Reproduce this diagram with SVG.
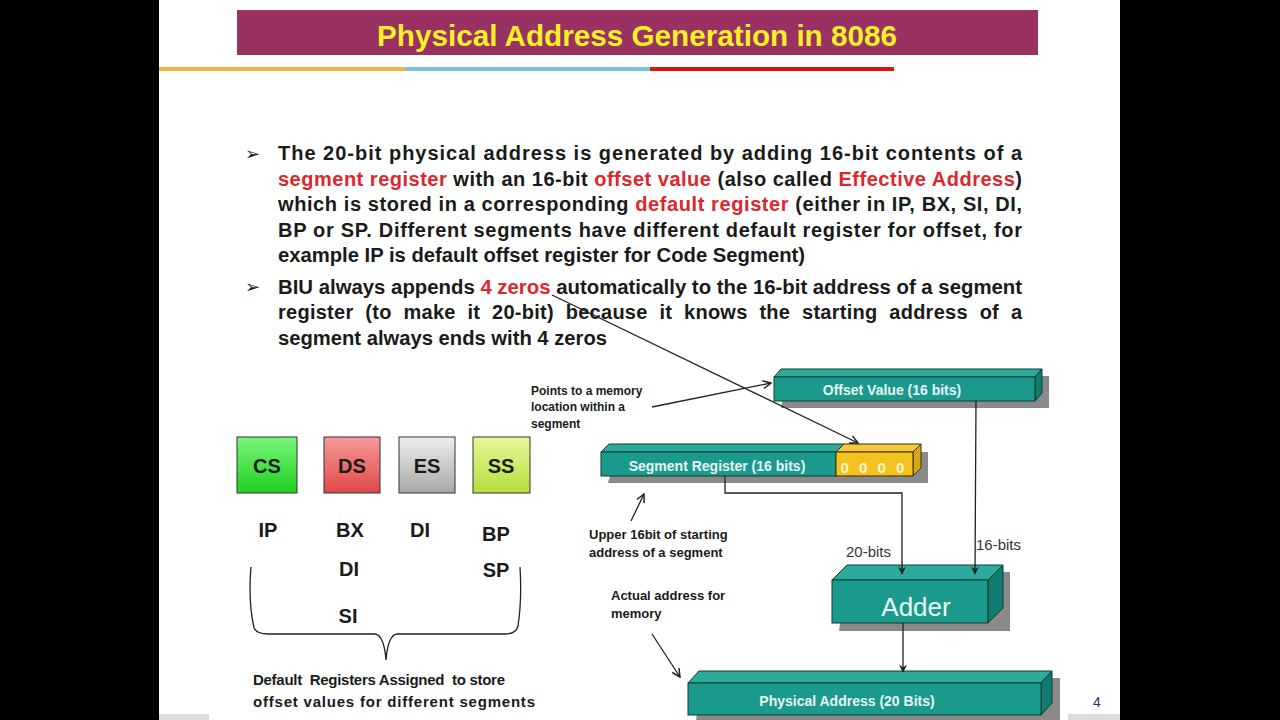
<svg xmlns="http://www.w3.org/2000/svg" width="1280" height="720" viewBox="0 0 1280 720">
<defs>
<style>
.bt{font-family:"Liberation Sans Narrow","Liberation Sans",Arial,sans-serif;font-weight:bold;font-size:20px;fill:#1a1a1a}
.r{fill:#e0262a}
.note{font-family:"Liberation Sans",Arial,sans-serif;font-weight:bold;font-size:13px;fill:#1a1a1a}
.box{font-family:"Liberation Sans",Arial,sans-serif;font-weight:bold;font-size:14px;fill:#e8f6f4;text-anchor:middle}
.reg{font-family:"Liberation Sans",Arial,sans-serif;font-weight:bold;font-size:20px;fill:#1a1a1a;text-anchor:middle}
.front{fill:#1b9a8c;stroke:#0b3c36;stroke-width:1}
.top{fill:#2cab9d;stroke:#0b3c36;stroke-width:1}
.side{fill:#117b70;stroke:#0b3c36;stroke-width:1}
.shadow{fill:#8a8a8a}
.ln{stroke:#222;stroke-width:1.3;fill:none}
.bits{font-family:"Liberation Sans",Arial,sans-serif;font-size:15px;fill:#333}
.bul{font-family:"DejaVu Sans",sans-serif;font-size:18px;fill:#1a1a1a}
</style>
<linearGradient id="gCS" x1="0" y1="0" x2="0" y2="1"><stop offset="0" stop-color="#7af57a"/><stop offset="1" stop-color="#20d020"/></linearGradient>
<linearGradient id="gDS" x1="0" y1="0" x2="0" y2="1"><stop offset="0" stop-color="#f59a9a"/><stop offset="1" stop-color="#e04848"/></linearGradient>
<linearGradient id="gES" x1="0" y1="0" x2="0" y2="1"><stop offset="0" stop-color="#eeeeee"/><stop offset="1" stop-color="#a8a8a8"/></linearGradient>
<linearGradient id="gSS" x1="0" y1="0" x2="0" y2="1"><stop offset="0" stop-color="#e6f79a"/><stop offset="1" stop-color="#b4de3c"/></linearGradient>
<marker id="ah" viewBox="0 0 10 10" refX="9" refY="5" markerWidth="8" markerHeight="8" orient="auto" markerUnits="userSpaceOnUse"><path d="M0,0 L10,5 L0,10 L3,5 Z" fill="#222"/></marker>
<marker id="av" viewBox="0 0 10 10" refX="9" refY="5" markerWidth="10" markerHeight="10" orient="auto" markerUnits="userSpaceOnUse"><path d="M1,1 L9,5 L1,9" fill="none" stroke="#222" stroke-width="1.5"/></marker>
</defs>

<!-- background -->
<rect x="0" y="0" width="1280" height="720" fill="#000"/>
<rect x="159" y="0" width="961" height="720" fill="#fff"/>
<rect x="159" y="714" width="50" height="6" fill="#dcdcdc"/>
<rect x="1068" y="714" width="52" height="6" fill="#dcdcdc"/>

<!-- title -->
<g id="title">
<rect x="237" y="10" width="801" height="45" fill="#993162"/>
<text x="637" y="46" text-anchor="middle" textLength="520" lengthAdjust="spacingAndGlyphs" style="font-family:'Liberation Sans Narrow','Liberation Sans',Arial,sans-serif;font-weight:bold;font-size:30px;fill:#f5f02a">Physical Address Generation in 8086</text>
<rect x="159" y="67" width="246" height="4" fill="#efb73e"/>
<rect x="405" y="67" width="245" height="4" fill="#7cc3da"/>
<rect x="650" y="67" width="244" height="4" fill="#dc1414"/>
</g>

<!-- bullets -->
<g id="bullets">
<text class="bul" x="245" y="160">➢</text>
<text class="bul" x="245" y="293">➢</text>
<text class="bt" x="278" y="160" textLength="744" lengthAdjust="spacing">The 20-bit physical address is generated by adding 16-bit contents of a</text>
<text class="bt" x="278" y="186" textLength="744" lengthAdjust="spacing"><tspan class="r">segment register</tspan> with an 16-bit <tspan class="r">offset value</tspan> (also called <tspan class="r">Effective Address</tspan>)</text>
<text class="bt" x="278" y="211" textLength="744" lengthAdjust="spacing">which is stored in a corresponding <tspan class="r">default register</tspan> (either in IP, BX, SI, DI,</text>
<text class="bt" x="278" y="237" textLength="744" lengthAdjust="spacing">BP or SP. Different segments have different default register for offset, for</text>
<text class="bt" x="278" y="262" textLength="527" lengthAdjust="spacingAndGlyphs">example IP is default offset register for Code Segment)</text>
<text class="bt" x="278" y="294" textLength="744" lengthAdjust="spacingAndGlyphs">BIU always appends <tspan class="r">4 zeros</tspan> automatically to the 16-bit address of a segment</text>
<text class="bt" x="278" y="319" textLength="744" lengthAdjust="spacing" style="word-spacing:6px">register (to make it 20-bit) because it knows the starting address of a</text>
<text class="bt" x="278" y="345" textLength="329" lengthAdjust="spacingAndGlyphs">segment always ends with 4 zeros</text>
</g>

<!-- segment registers -->
<g id="CS"><rect x="237" y="437" width="60" height="56" fill="url(#gCS)" stroke="#333"/><text class="reg" x="267" y="473">CS</text></g>
<g id="DS"><rect x="324" y="437" width="56" height="56" fill="url(#gDS)" stroke="#333"/><text class="reg" x="352" y="473">DS</text></g>
<g id="ES"><rect x="399" y="437" width="56" height="56" fill="url(#gES)" stroke="#333"/><text class="reg" x="427" y="473">ES</text></g>
<g id="SS"><rect x="473" y="437" width="57" height="56" fill="url(#gSS)" stroke="#333"/><text class="reg" x="501" y="473">SS</text></g>

<g id="defaults">
<text class="reg" x="268" y="537">IP</text>
<text class="reg" x="350" y="537">BX</text>
<text class="reg" x="349" y="576">DI</text>
<text class="reg" x="348" y="623">SI</text>
<text class="reg" x="420" y="537">DI</text>
<text class="reg" x="496" y="541">BP</text>
<text class="reg" x="496" y="577">SP</text>
<path class="ln" d="M251,567 Q248,600 254,628 Q257,634 268,634 L375,634 Q384,635 386,660 Q388,635 397,634 L505,634 Q516,634 518,626 Q522,600 520,567"/>
<text x="253" y="685" style="font-family:'Liberation Sans',Arial,sans-serif;font-weight:bold;font-size:15px;fill:#1a1a1a;white-space:pre" textLength="252" lengthAdjust="spacing">Default  Registers Assigned  to store</text>
<text x="253" y="707" style="font-family:'Liberation Sans',Arial,sans-serif;font-weight:bold;font-size:15px;fill:#1a1a1a" textLength="282" lengthAdjust="spacing">offset values for different segments</text>
</g>

<!-- Offset value -->
<g id="offset">
<polygon class="shadow" points="787,376 1049,376 1049,408 781,408"/>
<polygon class="top" points="774,377 781,369 1042,369 1035,377"/>
<polygon class="side" points="1035,377 1042,369 1042,393 1035,401"/>
<rect class="front" x="774" y="377" width="261" height="24"/>
<text class="box" x="892" y="395">Offset Value (16 bits)</text>
</g>

<!-- Segment register -->
<g id="segment">
<polygon class="shadow" points="616,452 928,452 928,483 608,483"/>
<polygon class="top" points="601,452 609,444 844,444 836,452"/>
<polygon points="836,452 844,444 921,444 913,452" fill="#f6c93a" stroke="#3a3000"/>
<polygon points="913,452 921,444 921,468 913,476" fill="#d7a51c" stroke="#3a3000"/>
<rect class="front" x="601" y="452" width="235" height="24"/>
<rect x="836" y="452" width="77" height="24" fill="#f3c220" stroke="#3a3000"/>
<text class="box" x="717" y="471">Segment Register (16 bits)</text>
<text x="874" y="473" text-anchor="middle" style="font-family:'Liberation Sans',Arial,sans-serif;font-weight:bold;font-size:15px;fill:#fff6cc;letter-spacing:3px">0 0 0 0</text>
</g>

<!-- Adder -->
<g id="adder">
<polygon class="shadow" points="847,572 1010,572 1010,631 839,631"/>
<polygon class="top" points="832,580 847,565 1003,565 988,580"/>
<polygon class="side" points="988,580 1003,565 1003,608 988,623"/>
<rect class="front" x="832" y="580" width="156" height="43"/>
<text x="916" y="616" text-anchor="middle" style="font-family:'Liberation Sans',Arial,sans-serif;font-size:26px;fill:#e6fff8">Adder</text>
</g>

<!-- Physical address -->
<g id="physical">
<polygon class="shadow" points="700,678 1060,678 1060,722 696,722"/>
<polygon class="top" points="688,683 699,671 1052,671 1041,683"/>
<polygon class="side" points="1041,683 1052,671 1052,703 1041,715"/>
<rect class="front" x="688" y="683" width="353" height="32"/>
<text class="box" x="847" y="706">Physical Address (20 Bits)</text>
</g>

<!-- notes -->
<g id="notes">
<text class="note" x="531" y="395" style="font-size:12px">Points to a memory</text>
<text class="note" x="531" y="411" style="font-size:12px">location within a</text>
<text class="note" x="531" y="428" style="font-size:12px">segment</text>
<text class="note" x="589" y="539">Upper 16bit of starting</text>
<text class="note" x="589" y="557">address of a segment</text>
<text class="note" x="611" y="600">Actual address for</text>
<text class="note" x="611" y="618">memory</text>
<text class="bits" x="846" y="557">20-bits</text>
<text class="bits" x="976" y="550">16-bits</text>
<text x="1097" y="707" text-anchor="middle" style="font-family:'Liberation Sans',Arial,sans-serif;font-size:14px;fill:#2b2b7a">4</text>
</g>

<!-- connectors -->
<g id="connectors">
<line class="ln" x1="552" y1="295" x2="858" y2="443" marker-end="url(#av)"/>
<line class="ln" x1="652" y1="407" x2="771" y2="383" marker-end="url(#av)"/>
<line class="ln" x1="631" y1="521" x2="644" y2="494" marker-end="url(#av)"/>
<line class="ln" x1="652" y1="634" x2="680" y2="677" marker-end="url(#av)"/>
<polyline class="ln" points="725,476 725,493 902,493 902,574" marker-end="url(#ah)"/>
<line class="ln" x1="976" y1="401" x2="975" y2="574" marker-end="url(#ah)"/>
<line class="ln" x1="903" y1="623" x2="903" y2="672" marker-end="url(#ah)"/>
</g>
</svg>
